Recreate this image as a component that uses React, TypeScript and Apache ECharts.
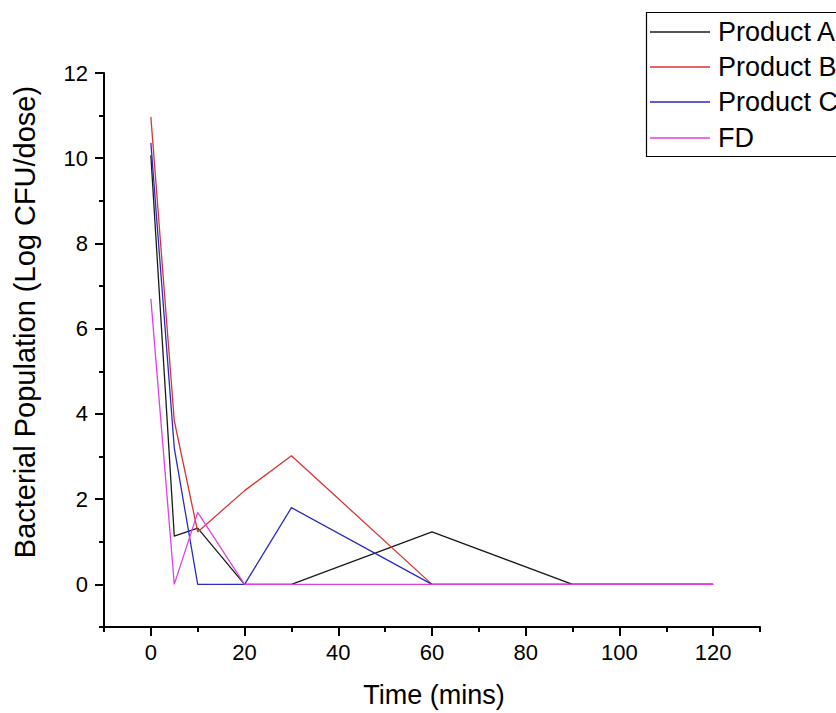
import React, { useEffect, useRef } from "react";
import * as echarts from "echarts";

const timeMins = [0, 5, 10, 20, 30, 60, 90, 120];
const productA = [10.07, 1.13, 1.32, 0, 0, 1.23, 0, 0];
const productB = [10.97, 3.84, 1.23, 2.2, 3.02, 0, 0, 0];
const productC = [10.36, 3.2, 0, 0, 1.8, 0, 0, 0];
const fd = [6.7, 0, 1.69, 0, 0, 0, 0, 0];

const seriesNames = ["Product A", "Product B", "Product C", "FD"];
const seriesValues = [productA, productB, productC, fd];
const seriesColors = ["#1a1a1a", "#d83434", "#2a2ac4", "#e040e6"];

const xMajorTicks = [0, 20, 40, 60, 80, 100, 120];
const xMinorTicks = [-10, 10, 30, 50, 70, 90, 110, 130];
const yMajorTicks = [0, 2, 4, 6, 8, 10, 12];
const yMinorTicks = [-1, 1, 3, 5, 7, 9, 11];

const xTitle = "Time (mins)";
const yTitle = "Bacterial Population (Log CFU/dose)";

const FONT = '"Liberation Sans", Arial, sans-serif';

export default function App() {
  const ref = useRef<HTMLDivElement>(null);
  useEffect(() => {
    if (!ref.current) return;
    const chart = echarts.init(ref.current, null, { renderer: "svg" });
    const axisLine = { show: true, onZero: false, lineStyle: { color: "#000", width: 2 } };
    const legendRowY = [32, 67, 102, 138];
    const legendGraphics: any[] = [
      {
        type: "rect",
        shape: { x: 646.5, y: 12.5, width: 220, height: 144 },
        style: { fill: "#fff", stroke: "#000", lineWidth: 1.2 },
        z: 10,
      },
    ];
    seriesNames.forEach((n, i) => {
      legendGraphics.push({
        type: "line",
        shape: { x1: 650, y1: legendRowY[i], x2: 710, y2: legendRowY[i] },
        style: { stroke: seriesColors[i], lineWidth: 1.3 },
        z: 11,
      });
      legendGraphics.push({
        type: "text",
        x: 718,
        y: legendRowY[i],
        style: {
          text: n,
          fill: "#000",
          font: `27px ${FONT}`,
          textAlign: "left",
          textVerticalAlign: "middle",
        },
        z: 11,
      });
    });
    chart.setOption({
      animation: false,
      backgroundColor: "#fff",
      grid: { left: 104, right: 76, top: 73, bottom: 86, containLabel: false },
      xAxis: [
        {
          type: "value",
          min: -10,
          max: 130,
          axisLine,
          splitLine: { show: false },
          axisTick: { show: true, length: 9, lineStyle: { width: 2, color: "#000" }, customValues: xMajorTicks },
          axisLabel: { customValues: xMajorTicks, margin: 14, fontSize: 22, color: "#000", fontFamily: FONT },
        },
        {
          type: "value",
          min: -10,
          max: 130,
          position: "bottom",
          axisLine: { show: false, onZero: false },
          splitLine: { show: false },
          axisTick: { show: true, length: 5, lineStyle: { width: 2, color: "#000" }, customValues: xMinorTicks },
          axisLabel: { show: false },
        },
      ],
      yAxis: [
        {
          type: "value",
          min: -1,
          max: 12,
          axisLine,
          splitLine: { show: false },
          axisTick: { show: true, length: 9, lineStyle: { width: 2, color: "#000" }, customValues: yMajorTicks },
          axisLabel: { customValues: yMajorTicks, margin: 16, fontSize: 22, color: "#000", fontFamily: FONT },
        },
        {
          type: "value",
          min: -1,
          max: 12,
          position: "left",
          axisLine: { show: false, onZero: false },
          splitLine: { show: false },
          axisTick: { show: true, length: 5, lineStyle: { width: 2, color: "#000" }, customValues: yMinorTicks },
          axisLabel: { show: false },
        },
      ],
      series: seriesNames.map((n, i) => ({
        name: n,
        type: "line",
        xAxisIndex: 0,
        yAxisIndex: 0,
        data: timeMins.map((t, j) => [t, seriesValues[i][j]]),
        showSymbol: false,
        symbol: "none",
        lineStyle: { color: seriesColors[i], width: 1.3 },
        itemStyle: { color: seriesColors[i] },
        z: 2 + i,
      })),
      graphic: [
        {
          type: "text",
          x: 434,
          y: 695,
          style: {
            text: xTitle,
            fill: "#000",
            font: `27px ${FONT}`,
            textAlign: "center",
            textVerticalAlign: "middle",
          },
        },
        {
          type: "text",
          x: 25,
          y: 322,
          rotation: Math.PI / 2,
          style: {
            text: yTitle,
            fill: "#000",
            font: `29px ${FONT}`,
            textAlign: "center",
            textVerticalAlign: "middle",
          },
        },
        ...legendGraphics,
      ],
    });
    return () => chart.dispose();
  }, []);
  return <div ref={ref} style={{ width: 836, height: 713, position: "absolute", left: 0, top: 0 }} />;
}
